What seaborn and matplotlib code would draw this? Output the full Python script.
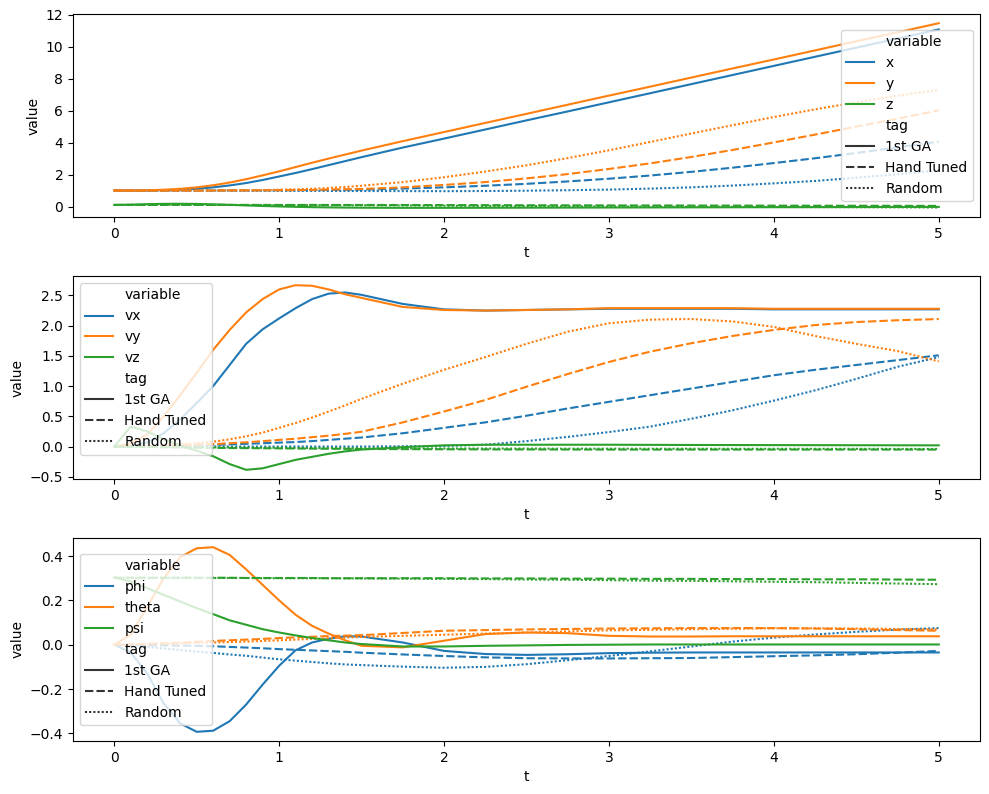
import numpy as np
import pandas as pd
import matplotlib
matplotlib.use("Agg")
import matplotlib.pyplot as plt
import seaborn as sns

# time grid (s)
t = [0.0, 0.1, 0.2, 0.3, 0.4, 0.5, 0.6, 0.7, 0.8, 0.9, 1.0, 1.1, 1.2, 1.3, 1.4, 1.5,
     1.75, 2.0, 2.25, 2.5, 2.75, 3.0, 3.25, 3.5, 3.75, 4.0, 4.25, 4.5, 4.75, 5.0]

tags = ["1st GA", "Hand Tuned", "Random"]

# ---------------- position ----------------
x_ga = [1.0, 1.0, 1.004, 1.02, 1.05, 1.11, 1.2, 1.32, 1.47, 1.66, 1.88, 2.1, 2.34, 2.59, 2.84, 3.09,
        3.69, 4.25, 4.82, 5.39, 5.95, 6.52, 7.09, 7.66, 8.23, 8.80, 9.37, 9.94, 10.51, 11.08]
y_ga = [1.0, 1.002, 1.014, 1.05, 1.11, 1.2, 1.33, 1.5, 1.71, 1.95, 2.2, 2.47, 2.74, 3.0, 3.25, 3.5,
        4.09, 4.66, 5.23, 5.8, 6.37, 6.94, 7.5, 8.07, 8.64, 9.2, 9.77, 10.34, 10.9, 11.47]
z_ga = [0.1, 0.117, 0.147, 0.167, 0.172, 0.162, 0.137, 0.105, 0.07, 0.035, 0.005, -0.02, -0.04, -0.055, -0.066, -0.074,
        -0.082, -0.082, -0.077, -0.072, -0.067, -0.062, -0.057, -0.052, -0.047, -0.042, -0.037, -0.032, -0.027, -0.022]
x_ht = [1.0, 1.0, 1.0, 1.0, 1.0, 1.0, 1.0, 1.005, 1.01, 1.015, 1.02, 1.025, 1.03, 1.04, 1.05, 1.06,
        1.12, 1.2, 1.3, 1.42, 1.57, 1.74, 1.94, 2.17, 2.43, 2.72, 3.02, 3.35, 3.7, 4.06]
y_ht = [1.0, 1.0, 1.0, 1.0, 1.0, 1.0, 1.003, 1.006, 1.01, 1.015, 1.02, 1.03, 1.04, 1.06, 1.08, 1.1,
        1.2, 1.35, 1.53, 1.76, 2.03, 2.35, 2.7, 3.1, 3.54, 4.01, 4.5, 5.0, 5.5, 6.02]
z_ht = [0.1, 0.1, 0.1, 0.1, 0.1, 0.1, 0.1, 0.1, 0.1, 0.1, 0.1, 0.1, 0.1, 0.099, 0.099, 0.098,
        0.095, 0.09, 0.085, 0.08, 0.075, 0.07, 0.066, 0.062, 0.058, 0.055, 0.051, 0.048, 0.044, 0.04]
x_r = [1.0, 1.0, 1.0, 1.0, 1.0, 1.0, 1.0, 0.995, 0.99, 0.99, 0.985, 0.98, 0.98, 0.975, 0.97, 0.97,
       0.965, 0.96, 0.97, 0.99, 1.02, 1.06, 1.12, 1.2, 1.31, 1.45, 1.6, 1.8, 2.02, 2.27]
y_r = [1.0, 1.0, 1.0, 1.0, 1.0, 1.0, 1.005, 1.01, 1.02, 1.03, 1.05, 1.08, 1.11, 1.16, 1.22, 1.3,
       1.53, 1.83, 2.19, 2.58, 3.03, 3.52, 4.04, 4.57, 5.09, 5.6, 6.08, 6.52, 6.93, 7.3]
z_r = [0.1, 0.1, 0.1, 0.1, 0.1, 0.1, 0.098, 0.096, 0.094, 0.092, 0.09, 0.088, 0.086, 0.084, 0.082, 0.08,
       0.07, 0.05, 0.04, 0.03, 0.015, 0.0, -0.008, -0.015, -0.022, -0.03, -0.037, -0.045, -0.052, -0.06]

# ---------------- velocity ----------------
vx_ga = [0.0, 0.0, 0.07, 0.22, 0.45, 0.72, 1.0, 1.35, 1.7, 1.94, 2.12, 2.29, 2.44, 2.53, 2.55, 2.51,
         2.36, 2.27, 2.25, 2.26, 2.27, 2.28, 2.28, 2.28, 2.28, 2.27, 2.27, 2.27, 2.27, 2.27]
vy_ga = [0.0, 0.05, 0.2, 0.5, 0.85, 1.22, 1.6, 1.93, 2.22, 2.44, 2.6, 2.67, 2.66, 2.6, 2.52, 2.46,
         2.31, 2.26, 2.25, 2.26, 2.27, 2.29, 2.29, 2.29, 2.29, 2.28, 2.28, 2.28, 2.28, 2.28]
vz_ga = [0.0, 0.33, 0.25, 0.12, 0.02, -0.07, -0.16, -0.29, -0.385, -0.36, -0.29, -0.22, -0.17, -0.12, -0.08, -0.05,
         -0.01, 0.02, 0.03, 0.03, 0.03, 0.03, 0.028, 0.026, 0.025, 0.024, 0.023, 0.022, 0.021, 0.02]
vx_ht = [0.0, 0.0, 0.005, 0.01, 0.015, 0.02, 0.03, 0.035, 0.045, 0.055, 0.065, 0.075, 0.09, 0.11, 0.13, 0.15,
         0.22, 0.31, 0.4, 0.51, 0.63, 0.74, 0.85, 0.96, 1.07, 1.18, 1.27, 1.35, 1.43, 1.51]
vy_ht = [0.0, 0.002, 0.005, 0.01, 0.02, 0.03, 0.04, 0.055, 0.07, 0.09, 0.11, 0.13, 0.155, 0.18, 0.21, 0.245,
         0.4, 0.58, 0.77, 0.99, 1.2, 1.4, 1.57, 1.71, 1.83, 1.93, 2.01, 2.06, 2.09, 2.11]
vz_ht = [0.0, -0.004, -0.008, -0.012, -0.015, -0.018, -0.021, -0.024, -0.026, -0.028, -0.03, -0.032, -0.034, -0.036, -0.038, -0.04,
         -0.043, -0.045, -0.047, -0.048, -0.049, -0.05, -0.05, -0.05, -0.05, -0.05, -0.05, -0.05, -0.05, -0.05]
vx_r = [0.0, 0.0, 0.0, 0.0, 0.0, 0.0, 0.0, 0.0, 0.0, 0.0, 0.0, 0.0, 0.0, 0.0, 0.0, 0.0,
        0.005, 0.01, 0.03, 0.09, 0.16, 0.24, 0.33, 0.46, 0.6, 0.76, 0.93, 1.12, 1.32, 1.48]
vy_r = [0.0, 0.005, 0.015, 0.025, 0.04, 0.055, 0.08, 0.12, 0.17, 0.23, 0.31, 0.39, 0.48, 0.58, 0.68, 0.79,
        1.04, 1.27, 1.48, 1.7, 1.9, 2.04, 2.1, 2.11, 2.07, 1.98, 1.83, 1.7, 1.58, 1.41]
vz_r = [0.0, -0.002, -0.005, -0.008, -0.01, -0.012, -0.014, -0.016, -0.018, -0.02, -0.022, -0.024, -0.025, -0.026, -0.027, -0.028,
        -0.03, -0.032, -0.033, -0.034, -0.035, -0.035, -0.036, -0.036, -0.037, -0.037, -0.038, -0.038, -0.039, -0.04]

# ---------------- attitude ----------------
phi_ga = [0.0, -0.035, -0.13, -0.265, -0.355, -0.393, -0.388, -0.345, -0.27, -0.18, -0.095, -0.025, 0.01, 0.027, 0.038, 0.037,
          0.01, -0.028, -0.042, -0.046, -0.043, -0.038, -0.036, -0.035, -0.035, -0.035, -0.035, -0.035, -0.035, -0.035]
theta_ga = [0.0, 0.045, 0.17, 0.3, 0.395, 0.435, 0.44, 0.405, 0.34, 0.27, 0.2, 0.135, 0.085, 0.05, 0.02, -0.005,
            -0.012, 0.018, 0.048, 0.055, 0.052, 0.04, 0.037, 0.037, 0.038, 0.038, 0.038, 0.038, 0.038, 0.038]
psi_ga = [0.304, 0.285, 0.255, 0.225, 0.195, 0.165, 0.138, 0.11, 0.09, 0.07, 0.055, 0.042, 0.03, 0.02, 0.01, 0.003,
          -0.008, -0.008, -0.005, -0.003, -0.001, 0.0, 0.001, 0.001, 0.001, 0.001, 0.001, 0.001, 0.001, 0.001]
phi_ht = [0.0, -0.001, -0.002, -0.003, -0.004, -0.005, -0.007, -0.01, -0.013, -0.016, -0.02, -0.023, -0.026, -0.029, -0.032, -0.036,
          -0.044, -0.051, -0.057, -0.061, -0.062, -0.062, -0.061, -0.06, -0.056, -0.052, -0.048, -0.043, -0.036, -0.028]
theta_ht = [0.0, 0.002, 0.004, 0.006, 0.009, 0.013, 0.017, 0.02, 0.023, 0.026, 0.03, 0.033, 0.036, 0.039, 0.041, 0.043,
            0.053, 0.063, 0.066, 0.069, 0.071, 0.073, 0.074, 0.075, 0.075, 0.075, 0.073, 0.07, 0.066, 0.063]
psi_ht = [0.302, 0.302, 0.302, 0.302, 0.302, 0.302, 0.302, 0.302, 0.301, 0.301, 0.301, 0.301, 0.301, 0.3, 0.3, 0.3,
          0.3, 0.3, 0.299, 0.299, 0.298, 0.298, 0.297, 0.297, 0.296, 0.296, 0.295, 0.295, 0.294, 0.293]
phi_r = [0.0, -0.003, -0.01, -0.017, -0.024, -0.031, -0.037, -0.044, -0.05, -0.058, -0.066, -0.072, -0.078, -0.084, -0.089, -0.092,
         -0.099, -0.104, -0.1, -0.088, -0.07, -0.051, -0.03, -0.008, 0.014, 0.032, 0.046, 0.058, 0.068, 0.075]
theta_r = [0.0, 0.001, 0.002, 0.004, 0.006, 0.008, 0.01, 0.012, 0.014, 0.017, 0.02, 0.023, 0.026, 0.029, 0.032, 0.035,
           0.04, 0.045, 0.05, 0.055, 0.06, 0.065, 0.067, 0.07, 0.072, 0.074, 0.074, 0.073, 0.071, 0.069]
psi_r = [0.302, 0.302, 0.302, 0.302, 0.302, 0.302, 0.301, 0.301, 0.301, 0.3, 0.3, 0.3, 0.3, 0.3, 0.299, 0.299,
         0.298, 0.297, 0.296, 0.294, 0.293, 0.291, 0.289, 0.288, 0.286, 0.284, 0.282, 0.279, 0.276, 0.273]


def long_frame(series):
    rows = []
    for (var, tag), vals in series.items():
        for ti, v in zip(t, vals):
            rows.append({"t": ti, "variable": var, "tag": tag, "value": v})
    return pd.DataFrame(rows)


panels = [
    ({("x", tags[0]): x_ga, ("y", tags[0]): y_ga, ("z", tags[0]): z_ga,
      ("x", tags[1]): x_ht, ("y", tags[1]): y_ht, ("z", tags[1]): z_ht,
      ("x", tags[2]): x_r, ("y", tags[2]): y_r, ("z", tags[2]): z_r},
     ["x", "y", "z"], "center right"),
    ({("vx", tags[0]): vx_ga, ("vy", tags[0]): vy_ga, ("vz", tags[0]): vz_ga,
      ("vx", tags[1]): vx_ht, ("vy", tags[1]): vy_ht, ("vz", tags[1]): vz_ht,
      ("vx", tags[2]): vx_r, ("vy", tags[2]): vy_r, ("vz", tags[2]): vz_r},
     ["vx", "vy", "vz"], "upper left"),
    ({("phi", tags[0]): phi_ga, ("theta", tags[0]): theta_ga, ("psi", tags[0]): psi_ga,
      ("phi", tags[1]): phi_ht, ("theta", tags[1]): theta_ht, ("psi", tags[1]): psi_ht,
      ("phi", tags[2]): phi_r, ("theta", tags[2]): theta_r, ("psi", tags[2]): psi_r},
     ["phi", "theta", "psi"], "center left"),
]

fig, axes = plt.subplots(3, 1, figsize=(9.89, 7.94), dpi=100)
fig.subplots_adjust(left=0.0738, right=0.9909, top=0.9824, bottom=0.0667, hspace=0.29)

for ax, (series, order, loc) in zip(axes, panels):
    df = long_frame(series)
    sns.lineplot(data=df, x="t", y="value", hue="variable", style="tag",
                 hue_order=order, style_order=tags, ax=ax)
    sns.move_legend(ax, loc)

fig.savefig("out.png", dpi=100)
